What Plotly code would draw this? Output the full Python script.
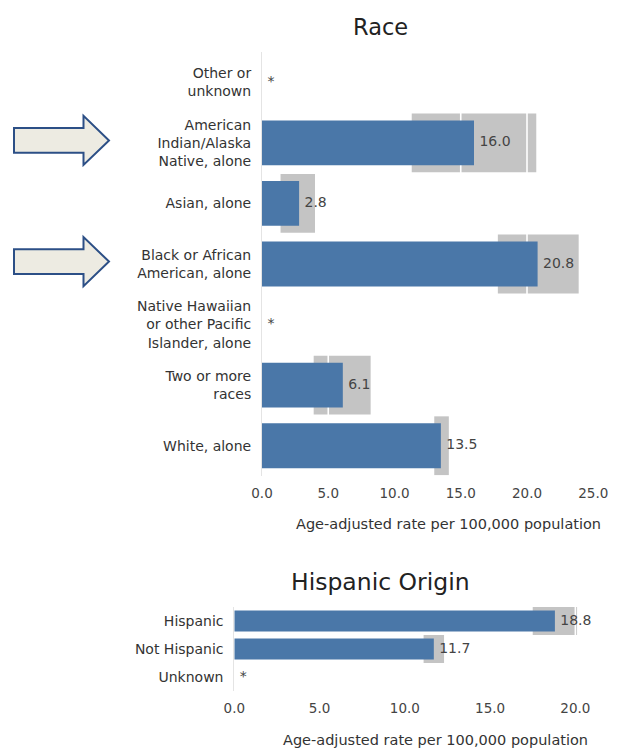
import plotly.graph_objects as go

W, H = 629, 749

# ---- data -------------------------------------------------------------
race_categories = [
    "Other or<br>unknown",
    "American<br>Indian/Alaska<br>Native, alone",
    "Asian, alone",
    "Black or African<br>American, alone",
    "Native Hawaiian<br>or other Pacific<br>Islander, alone",
    "Two or more<br>races",
    "White, alone",
]
race_rate = [None, 16.0, 2.8, 20.8, None, 6.1, 13.5]
race_ci_low = [None, 11.3, 1.4, 17.8, None, 3.9, 13.0]
race_ci_high = [None, 20.7, 4.0, 23.9, None, 8.2, 14.1]
race_highlighted = [race_categories[1], race_categories[3]]
race_ticks = [0, 5, 10, 15, 20, 25]

hisp_categories = ["Hispanic", "Not Hispanic", "Unknown"]
hisp_rate = [18.8, 11.7, None]
hisp_ci_low = [17.5, 11.1, None]
hisp_ci_high = [20.1, 12.3, None]
hisp_ticks = [0, 5, 10, 15, 20]

axis_title = "Age-adjusted rate per 100,000 population"

# ---- style ------------------------------------------------------------
FONT = "DejaVu Sans"
TEXT = "#333333"
BAR = "#4a77a8"
CI = "#c4c4c4"
AXLINE = "#e4e4e4"


def px_x(p):
    return p / W


def px_y(p):
    return 1 - p / H


fig = go.Figure()


def add_panel(n, cats, rate, lo, hi, ticks, xmax, xdom, ydom, bar_w, ci_w):
    """Base axes (n) carry the CI boxes and white grid marks,
    overlay axes (n+1) carry the estimate bars and their labels."""
    base_x, base_y = f"x{n}" if n > 1 else "x", f"y{n}" if n > 1 else "y"
    top_x, top_y = f"x{n + 1}", f"y{n + 1}"
    pos = list(range(len(cats)))
    yrange = [len(cats) - 0.5, -0.5]

    ci_pos = [p for p, l in zip(pos, lo) if l is not None]
    ci_base = [l for l in lo if l is not None]
    ci_len = [h - l for l, h in zip(lo, hi) if l is not None]
    fig.add_trace(go.Bar(
        y=ci_pos, x=ci_len, base=ci_base, orientation="h", width=ci_w,
        marker=dict(color=CI, line=dict(width=0)),
        xaxis=base_x, yaxis=base_y, hoverinfo="skip", showlegend=False,
    ))
    gx, gy = [], []
    for t in ticks[1:]:
        gx += [t, t, None]
        gy += [yrange[0], yrange[1], None]
    fig.add_trace(go.Scatter(
        x=gx, y=gy, mode="lines", line=dict(color="white", width=1.6),
        xaxis=base_x, yaxis=base_y, hoverinfo="skip", showlegend=False,
    ))

    bar_pos = [p for p, v in zip(pos, rate) if v is not None]
    bar_val = [v for v in rate if v is not None]
    fig.add_trace(go.Bar(
        y=bar_pos, x=bar_val, orientation="h", width=bar_w,
        marker=dict(color=BAR, line=dict(width=0)),
        xaxis=top_x, yaxis=top_y, hoverinfo="skip", showlegend=False,
    ))
    fig.add_trace(go.Scatter(
        y=pos, x=[v if v is not None else 0 for v in rate],
        mode="markers+text",
        marker=dict(size=7, color="rgba(0,0,0,0)"),
        text=[f"{v:.1f}" if v is not None else "*" for v in rate],
        textposition="middle right",
        textfont=dict(family=FONT, size=14, color="#444444"),
        xaxis=top_x, yaxis=top_y, hoverinfo="skip", showlegend=False,
        cliponaxis=False,
    ))

    xkey = "xaxis" if n == 1 else f"xaxis{n}"
    ykey = "yaxis" if n == 1 else f"yaxis{n}"
    fig.update_layout(**{
        xkey: dict(
            domain=xdom, anchor=base_y, range=[0, xmax], showgrid=False,
            zeroline=False, showline=False, tickvals=ticks,
            ticktext=[f"{t:.1f}" for t in ticks],
            tickfont=dict(family=FONT, size=13.5, color="#444444"),
            ticks="", ticklabelstandoff=7, automargin=False,
        ),
        ykey: dict(
            domain=ydom, anchor=base_x, range=yrange, showgrid=False,
            zeroline=False, showline=True, linecolor=AXLINE, linewidth=1,
            tickvals=pos, ticktext=cats, ticks="", ticklabelstandoff=7,
            tickfont=dict(family=FONT, size=14, color=TEXT), automargin=False,
        ),
        f"xaxis{n + 1}": dict(
            domain=xdom, anchor=top_y, overlaying=base_x, range=[0, xmax],
            visible=False,
        ),
        f"yaxis{n + 1}": dict(
            domain=ydom, anchor=top_x, overlaying=base_y, range=yrange,
            visible=False,
        ),
    })


add_panel(1, race_categories, race_rate, race_ci_low, race_ci_high,
          race_ticks, 26, [px_x(262), px_x(606.5)], [px_y(476), px_y(52)],
          0.74, 0.97)
add_panel(3, hisp_categories, hisp_rate, hisp_ci_low, hisp_ci_high,
          hisp_ticks, 22.5, [px_x(234.3), px_x(618)], [px_y(691), px_y(607)],
          0.75, 1.0)

# panel headings and axis captions
labels = [
    ("Race", 381, 27, 22.5, "#222222"),
    ("Hispanic Origin", 380, 582, 23.5, "#222222"),
    (axis_title, 449, 524, 14.5, TEXT),
    (axis_title, 435, 740, 14.5, TEXT),
]
for text, xc, yc, size, color in labels:
    fig.add_annotation(
        text=text, x=px_x(xc), y=px_y(yc), xref="paper", yref="paper",
        showarrow=False, xanchor="center", yanchor="middle",
        font=dict(family=FONT, size=size, color=color),
    )

# block arrows pointing at highlighted rows
x_tail, x_neck, x_tip = px_x(14), px_x(83.5), px_x(109)
for cat in race_highlighted:
    c = race_categories.index(cat) - 0.04
    shaft, head = 0.205, 0.405
    path = (f"M {x_tail},{c - shaft} L {x_neck},{c - shaft} L {x_neck},{c - head} "
            f"L {x_tip},{c} L {x_neck},{c + head} L {x_neck},{c + shaft} "
            f"L {x_tail},{c + shaft} Z")
    fig.add_shape(type="path", path=path, xref="paper", yref="y",
                  fillcolor="#edebe2", line=dict(color="#2c4f86", width=2))

fig.update_layout(
    width=W, height=H, margin=dict(l=0, r=0, t=0, b=0, autoexpand=False),
    paper_bgcolor="white", plot_bgcolor="white",
    barmode="overlay", showlegend=False,
    font=dict(family=FONT, color=TEXT),
)

fig.write_html("out.html")
